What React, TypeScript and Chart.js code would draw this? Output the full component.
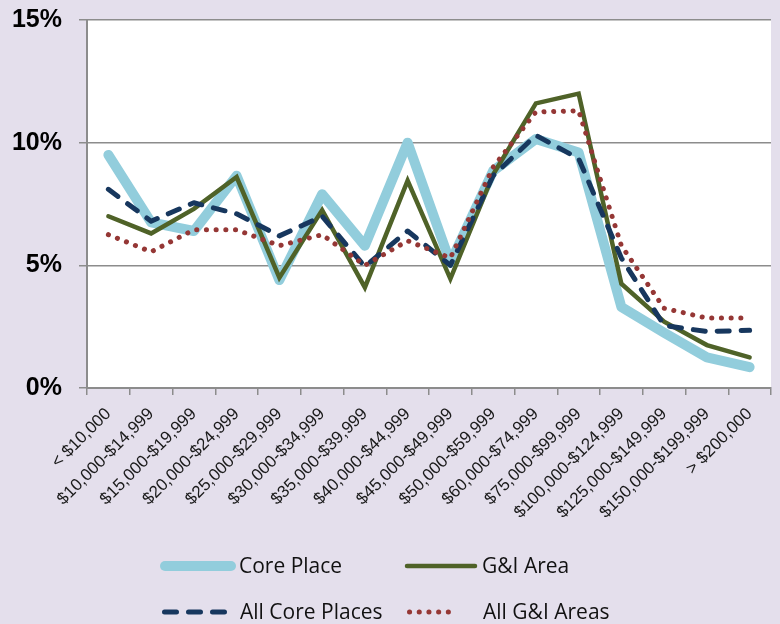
import React, { useEffect, useRef } from "react";
import { Chart, registerables } from "chart.js";

Chart.register(...registerables);

const categories = [
  "< $10,000",
  "$10,000-$14,999",
  "$15,000-$19,999",
  "$20,000-$24,999",
  "$25,000-$29,999",
  "$30,000-$34,999",
  "$35,000-$39,999",
  "$40,000-$44,999",
  "$45,000-$49,999",
  "$50,000-$59,999",
  "$60,000-$74,999",
  "$75,000-$99,999",
  "$100,000-$124,999",
  "$125,000-$149,999",
  "$150,000-$199,999",
  "> $200,000",
];

const corePlace = [9.5, 6.75, 6.4, 8.65, 4.4, 7.9, 5.8, 10.0, 5.1, 8.85, 10.15, 9.6, 3.3, 2.25, 1.25, 0.85];
const giArea = [7.0, 6.3, 7.3, 8.6, 4.5, 7.25, 4.1, 8.45, 4.45, 8.7, 11.6, 12.0, 4.25, 2.7, 1.75, 1.25];
const allCorePlaces = [8.1, 6.8, 7.55, 7.1, 6.2, 7.0, 4.95, 6.4, 5.0, 8.65, 10.3, 9.35, 5.3, 2.55, 2.3, 2.35];
const allGIAreas = [6.25, 5.55, 6.45, 6.45, 5.8, 6.25, 5.0, 6.0, 5.3, 9.0, 11.25, 11.3, 5.8, 3.25, 2.85, 2.85];

const yMin = 0;
const yMax = 15;
const yStep = 5;

const BG = "#E4DFEC";

const legendItems = [
  { ds: 0, x: 165, y: 566, len: 66, tx: 239 },
  { ds: 1, x: 407, y: 566, len: 68, tx: 482 },
  { ds: 2, x: 164.5, y: 612, len: 60, tx: 240 },
  { ds: 3, x: 409.5, y: 612, len: 48.5, tx: 483 },
];

const bgPlugin = {
  id: "plotBg",
  beforeDraw(chart: any) {
    const { ctx, chartArea } = chart;
    ctx.save();
    ctx.fillStyle = BG;
    ctx.fillRect(0, 0, chart.width, chart.height);
    ctx.fillStyle = "#FFFFFF";
    ctx.fillRect(chartArea.left, chartArea.top, chartArea.right - chartArea.left, chartArea.bottom - chartArea.top);
    ctx.restore();
  },
};

const legendPlugin = {
  id: "customLegend",
  afterDraw(chart: any) {
    const ctx = chart.ctx;
    legendItems.forEach((it) => {
      const ds: any = chart.data.datasets[it.ds];
      ctx.save();
      ctx.strokeStyle = ds.borderColor;
      ctx.lineWidth = ds.borderWidth;
      ctx.lineCap = ds.borderCapStyle || "butt";
      ctx.setLineDash(ds.borderDash || []);
      ctx.beginPath();
      ctx.moveTo(it.x, it.y);
      ctx.lineTo(it.x + it.len, it.y);
      ctx.stroke();
      ctx.setLineDash([]);
      ctx.fillStyle = "#111111";
      ctx.font = "21px 'Open Sans'";
      ctx.textBaseline = "middle";
      ctx.textAlign = "left";
      ctx.fillText(ds.label, it.tx, it.y + 1);
      ctx.restore();
    });
  },
};

export default function App() {
  const ref = useRef<HTMLCanvasElement | null>(null);

  useEffect(() => {
    if (!ref.current) return;
    const chart = new Chart(ref.current, {
      type: "line",
      data: {
        labels: categories,
        datasets: [
          {
            label: "Core Place",
            data: corePlace,
            borderColor: "#92CDDC",
            backgroundColor: "#92CDDC",
            borderWidth: 10,
            borderCapStyle: "round",
            borderJoinStyle: "round",
            pointRadius: 0,
            order: 4,
          },
          {
            label: "G&I Area",
            data: giArea,
            borderColor: "#4F6228",
            backgroundColor: "#4F6228",
            borderWidth: 4.5,
            borderCapStyle: "round",
            borderJoinStyle: "miter",
            pointRadius: 0,
            order: 3,
          },
          {
            label: "All Core Places",
            data: allCorePlaces,
            borderColor: "#17375E",
            backgroundColor: "#17375E",
            borderWidth: 5,
            borderDash: [12, 12],
            borderCapStyle: "round",
            borderJoinStyle: "round",
            pointRadius: 0,
            order: 2,
          },
          {
            label: "All G&I Areas",
            data: allGIAreas,
            borderColor: "#953735",
            backgroundColor: "#953735",
            borderWidth: 5,
            borderDash: [0.1, 9.6],
            borderCapStyle: "round",
            borderJoinStyle: "round",
            pointRadius: 0,
            order: 1,
          },
        ],
      },
      options: {
        responsive: false,
        animation: false,
        layout: { padding: { top: 20, right: 9, left: 0, bottom: 0 } },
        plugins: {
          legend: { display: false },
          tooltip: { enabled: false },
        },
        scales: {
          x: {
            offset: true,
            afterFit: (scale: any) => {
              scale.height = 236;
            },
            grid: {
              offset: true,
              drawOnChartArea: false,
              drawTicks: true,
              tickLength: 7,
              color: "#8C8C8C",
              lineWidth: 1.5,
            },
            border: { color: "#8C8C8C", width: 2 },
            ticks: {
              autoSkip: false,
              maxRotation: 45,
              minRotation: 45,
              padding: 9,
              color: "#1A1A1A",
              font: { family: "Liberation Sans, Arial", size: 17 },
            },
          },
          y: {
            min: yMin,
            max: yMax,
            afterFit: (scale: any) => {
              scale.width = 87;
              scale.paddingTop = 0;
              scale.paddingBottom = 0;
            },
            grid: {
              color: "#8C8C8C",
              lineWidth: 1.5,
              tickLength: 8,
            },
            border: { color: "#8C8C8C", width: 2 },
            ticks: {
              stepSize: yStep,
              padding: 17,
              color: "#000000",
              font: { family: "Liberation Sans, Arial", size: 25, weight: "bold" },
              callback: (v: any) => v + "%",
            },
          },
        },
      },
      plugins: [bgPlugin, legendPlugin],
    });
    return () => chart.destroy();
  }, []);

  return (
    <div style={{ position: "fixed", left: 0, top: 0, width: 780, height: 624, background: BG }}>
      <canvas ref={ref} width={780} height={624} style={{ display: "block" }} />
    </div>
  );
}
